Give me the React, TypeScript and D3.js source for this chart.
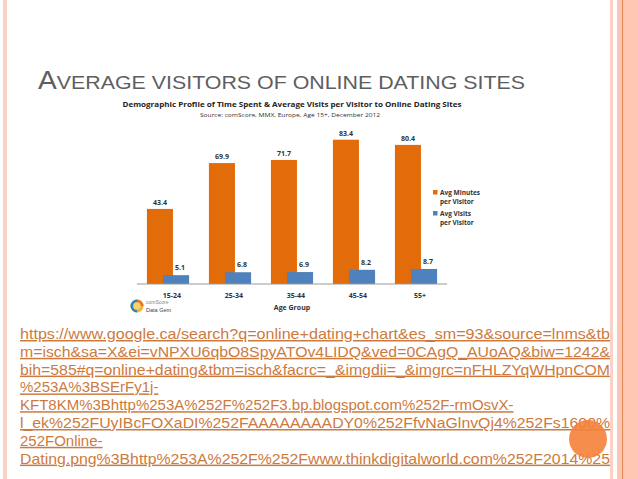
import React from 'react';
import * as d3 from 'd3';

const ageGroups = ['15-24', '25-34', '35-44', '45-54', '55+'];
const avgMinutes = [43.4, 69.9, 71.7, 83.4, 80.4];
const avgVisits = [5.1, 6.8, 6.9, 8.2, 8.7];
const seriesNames = [['Avg Minutes', 'per Visitor'], ['Avg Visits', 'per Visitor']];
const slideTitleFirst = 'A';
const slideTitleRest = 'VERAGE VISITORS OF ONLINE DATING SITES';
const chartTitle = 'Demographic Profile of Time Spent & Average Visits per Visitor to Online Dating Sites';
const chartSource = 'Source: comScore, MMX, Europe, Age 15+, December 2012';
const xAxisTitle = 'Age Group';
const urlLines = [
  'https://www.google.ca/search?q=online+dating+chart&es_sm=93&source=lnms&tb',
  'm=isch&sa=X&ei=vNPXU6qbO8SpyATOv4LIDQ&ved=0CAgQ_AUoAQ&biw=1242&',
  'bih=585#q=online+dating&tbm=isch&facrc=_&imgdii=_&imgrc=nFHLZYqWHpnCOM',
  '%253A%3BSErFy1j-',
  'KFT8KM%3Bhttp%253A%252F%252F3.bp.blogspot.com%252F-rmOsvX-',
  'l_ek%252FUyIBcFOXaDI%252FAAAAAAAADY0%252FfvNaGlnvQj4%252Fs1600%',
  '252FOnline-',
  'Dating.png%3Bhttp%253A%252F%252Fwww.thinkdigitalworld.com%252F2014%25',
];

const W = 638;
const H = 479;
const ORANGE = '#e36c0a';
const BLUE = '#4f81bd';
const LINK = '#cd7a3e';
const FULL_LINES = [0, 1, 2, 5, 7];

export default function App() {
  const x = d3.scaleBand<string>().domain(ageGroups).range([137, 447]).padding(0);
  const y = d3.scaleLinear().domain([0, 100]).range([284, 111]);
  const bw = x.bandwidth();
  const barW = bw * 0.42;
  const offO = bw * 0.16;
  const offB = bw * 0.42;
  const baseFont = 'Liberation Sans, Arial, sans-serif';
  const chartFont = 'Open Sans, Liberation Sans, sans-serif';

  return (
    <svg width={W} height={H} style={{ position: 'absolute', left: 0, top: 0, display: 'block' }}>
      <rect x={0} y={0} width={W} height={H} fill="#ffffff" />
      {/* left border */}
      <rect x={3} y={0} width={4} height={H} fill="#f7d3c6" />
      {/* right border */}
      <rect x={610} y={0} width={3} height={H} fill="#f9d2c4" />
      <rect x={617} y={0} width={5} height={H} fill="#fbc7b5" />
      <rect x={622} y={0} width={1.5} height={H} fill="#e58a5a" />
      <rect x={623.5} y={0} width={W - 623.5} height={H} fill="#ffc6b2" />

      {/* slide title */}
      <text x={38} y={89} fill="#5e5e5e" fontFamily={baseFont} textLength={487} lengthAdjust="spacingAndGlyphs">
        <tspan fontSize={25}>{slideTitleFirst}</tspan>
        <tspan fontSize={19}>{slideTitleRest}</tspan>
      </text>

      {/* chart title */}
      <text x={292} y={107} textAnchor="middle" fontFamily={chartFont} fontWeight="bold" fontSize={7.5} fill="#222" textLength={339} lengthAdjust="spacingAndGlyphs">
        {chartTitle}
      </text>
      <text x={290} y={117} textAnchor="middle" fontFamily={chartFont} fontSize={5.5} fill="#333" textLength={180} lengthAdjust="spacingAndGlyphs">
        {chartSource}
      </text>

      {/* bars */}
      {ageGroups.map((g, i) => (
        <g key={g}>
          <rect x={(x(g) as number) + offO} y={y(avgMinutes[i])} width={barW} height={y(0) - y(avgMinutes[i])} fill={ORANGE} />
          <rect x={(x(g) as number) + offB} y={y(avgVisits[i])} width={barW} height={y(0) - y(avgVisits[i])} fill={BLUE} />
          <text x={(x(g) as number) + offO + barW / 2} y={y(avgMinutes[i]) - 4} textAnchor="middle" fontFamily={chartFont} fontWeight="bold" fontSize={7} fill="#333">
            {avgMinutes[i].toFixed(1)}
          </text>
          <text x={(x(g) as number) + offB + barW / 2 + 4} y={y(avgVisits[i]) - 5} textAnchor="middle" fontFamily={chartFont} fontWeight="bold" fontSize={7} fill="#333">
            {avgVisits[i].toFixed(1)}
          </text>
          <text x={(x(g) as number) + bw / 2 + 4} y={298} textAnchor="middle" fontFamily={chartFont} fontWeight="bold" fontSize={7} fill="#333">
            {g}
          </text>
        </g>
      ))}
      <line x1={137} x2={447} y1={y(0)} y2={y(0)} stroke="#999" strokeWidth={1} />
      <text x={292} y={310} textAnchor="middle" fontFamily={chartFont} fontWeight="bold" fontSize={7} fill="#333">
        {xAxisTitle}
      </text>

      {/* legend */}
      {seriesNames.map((s, i) => (
        <g key={s[0]} transform={`translate(433, ${190 + i * 21})`}>
          <rect x={0} y={0} width={4.5} height={4.5} fill={i === 0 ? ORANGE : BLUE} />
          <text x={7} y={5} fontFamily={chartFont} fontWeight="bold" fontSize={6.5} fill="#333">{s[0]}</text>
          <text x={7} y={13.5} fontFamily={chartFont} fontWeight="bold" fontSize={6.5} fill="#333">{s[1]}</text>
        </g>
      ))}

      {/* logo */}
      <g transform="translate(137,306)">
        <circle r={6.5} fill="#f3b233" />
        <path d="M0,-6.5 A6.5,6.5 0 0,0 -6.5,0 A6.5,6.5 0 0,0 0,6.5 L0,4 A4,4 0 0,1 -4,0 A4,4 0 0,1 0,-4 Z" fill="#2f7fc1" />
        <path d="M0,-6.5 A6.5,6.5 0 0,1 6.5,0 L4,0 A4,4 0 0,0 0,-4 Z" fill="#e8702a" />
        <circle r={3.5} fill="#f7d36b" />
      </g>
      <text x={146} y={304} fontFamily={baseFont} fontSize={5} fill="#888">comScore</text>
      <text x={146} y={312} fontFamily={baseFont} fontSize={5.5} fill="#444">Data Gem</text>

      {/* URL text */}
      <g>
        {urlLines.map((l, i) => {
          const full = FULL_LINES.includes(i);
          return (
            <text
              key={i}
              x={20}
              y={339 + i * 17.8}
              fontFamily={baseFont}
              fontSize={15}
              fill={LINK}
              textDecoration="underline"
              {...(full ? { textLength: 590, lengthAdjust: 'spacingAndGlyphs' } : {})}
            >
              {l}
            </text>
          );
        })}
      </g>
      <circle cx={588} cy={439} r={19} fill="#f5813a" opacity={0.9} />
    </svg>
  );
}
